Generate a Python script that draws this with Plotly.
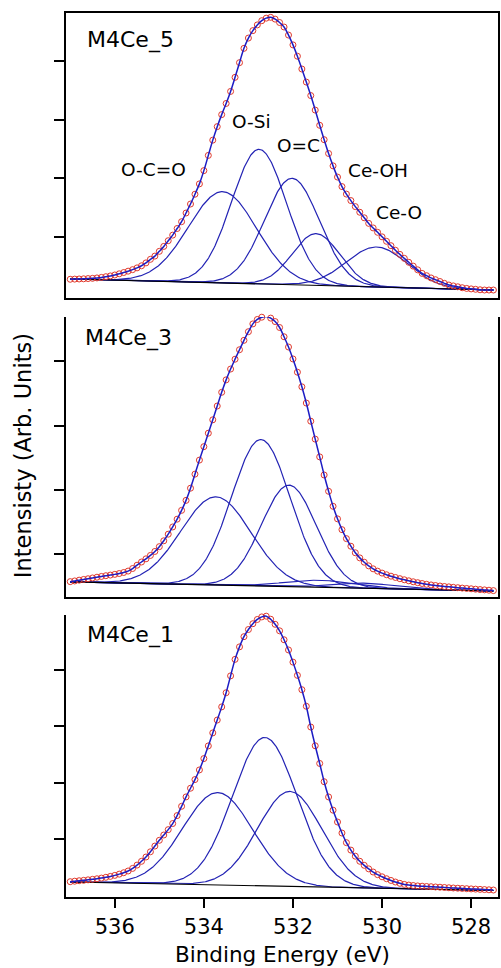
import numpy as np
import plotly.graph_objects as go

# Binding-energy grid of the O 1s scans (eV), 0.1 eV steps from 537.0 down to 527.5
binding_energy = np.round(np.linspace(537.0, 527.5, 96), 2)

# Measured intensities (arb. units) on that grid
int_m4ce5 = [280, 283, 285, 288, 292, 296, 303, 312, 324, 337,
             353, 373, 395, 418, 444, 474, 510, 559, 620, 675,
             756, 840, 937, 1032, 1145, 1261, 1409, 1562, 1729, 1905,
             2131, 2390, 2650, 2880, 3085, 3275, 3480, 3720, 3970, 4214,
             4389, 4516, 4613, 4685, 4728, 4742, 4712, 4654, 4577, 4440,
             4273, 4080, 3862, 3639, 3409, 3162, 2903, 2658, 2423, 2212,
             2021, 1859, 1731, 1621, 1518, 1422, 1327, 1232, 1155, 1080,
             1003, 927, 852, 775, 704, 637, 569, 504, 441, 380,
             341, 303, 273, 242, 211, 182, 167, 152, 136, 124,
             116, 109, 101, 97, 97, 97]
int_m4ce3 = [576, 587, 599, 610, 621, 633, 645, 657, 668, 678,
             689, 702, 718, 740, 780, 831, 881, 930, 983, 1045,
             1119, 1210, 1313, 1425, 1546, 1683, 1838, 2027, 2245, 2463,
             2672, 2881, 3089, 3303, 3516, 3709, 3877, 4030, 4177, 4323,
             4457, 4578, 4647, 4682, 4694, 4668, 4614, 4522, 4378, 4219,
             4034, 3828, 3601, 3349, 3067, 2789, 2513, 2232, 1979, 1746,
             1551, 1383, 1244, 1126, 1024, 945, 878, 821, 775, 739,
             709, 683, 661, 641, 622, 605, 589, 574, 560, 547,
             535, 525, 516, 508, 501, 495, 488, 482, 476, 470,
             465, 459, 453, 448, 443, 437]
int_m4ce1 = [242, 251, 259, 266, 275, 284, 294, 306, 320, 336,
             354, 376, 401, 432, 478, 537, 604, 680, 773, 875,
             977, 1071, 1166, 1275, 1416, 1581, 1748, 1902, 2056, 2227,
             2429, 2654, 2885, 3113, 3347, 3598, 3898, 4191, 4413, 4594,
             4721, 4824, 4900, 4945, 4958, 4904, 4814, 4698, 4539, 4358,
             4142, 3907, 3652, 3358, 2989, 2656, 2342, 2018, 1747, 1512,
             1302, 1106, 935, 803, 695, 605, 533, 470, 414, 367,
             329, 295, 264, 236, 213, 194, 182, 174, 167, 162,
             157, 153, 148, 144, 139, 134, 130, 126, 122, 118,
             114, 110, 106, 102, 98, 94]

# Fitted components: centre (eV), height above background, FWHM (eV)
comp_names = ["O-C=O", "O-Si", "O=C", "Ce-OH", "Ce-O"]

m4ce5_center = [533.58, 532.76, 532.02, 531.48, 530.12]
m4ce5_height = [1555, 2293, 1814, 882, 681]
m4ce5_fwhm = [1.80, 1.45, 1.45, 1.25, 1.60]
m4ce5_bg = [285, 97]          # linear background at 537.0 / 527.5 eV

m4ce3_center = [533.73, 532.72, 532.09, 531.40, 530.40]
m4ce3_height = [1370, 2275, 1576, 109, 78]
m4ce3_fwhm = [1.85, 1.55, 1.45, 1.80, 1.60]
m4ce3_bg = [571, 431]

m4ce1_center = [533.69, 532.63, 532.07]
m4ce1_height = [1642, 2637, 1687]
m4ce1_fwhm = [1.85, 1.70, 1.70]
m4ce1_bg = [236, 85]

panels = [
    ("M4Ce_5", int_m4ce5, m4ce5_center, m4ce5_height, m4ce5_fwhm, m4ce5_bg, [-39, 4816]),
    ("M4Ce_3", int_m4ce3, m4ce3_center, m4ce3_height, m4ce3_fwhm, m4ce3_bg, [338, 4685]),
    ("M4Ce_1", int_m4ce1, m4ce1_center, m4ce1_height, m4ce1_fwhm, m4ce1_bg, [-30, 4979]),
]

x_ticks = [536, 534, 532, 530, 528]
x_range = [537.095, 527.397]
domains = [[0.6776, 1.0], [0.3394, 0.6561], [0.0, 0.3190]]

FONT = "DejaVu Sans"
RED = "#e0392c"
BLUE = "#2323b4"
ENV = "#1c1cc4"

fig = go.Figure()
e_fine = np.linspace(binding_energy[0], binding_energy[-1], 600)

for i, (name, data, cen, hgt, fw, bg, yr) in enumerate(panels):
    sfx = "" if i == 0 else str(i + 1)
    xa, ya = "x" + sfx, "y" + sfx
    frac = (binding_energy[0] - e_fine) / (binding_energy[0] - binding_energy[-1])
    bg_line = bg[0] + (bg[1] - bg[0]) * frac
    for c, h, w in zip(cen, hgt, fw):
        sig = w / (2 * np.sqrt(2 * np.log(2)))
        fig.add_trace(go.Scatter(x=e_fine, y=bg_line + h * np.exp(-(e_fine - c) ** 2 / (2 * sig ** 2)),
                                 mode="lines", line=dict(color=BLUE, width=1.2),
                                 xaxis=xa, yaxis=ya, showlegend=False, hoverinfo="skip"))
    fig.add_trace(go.Scatter(x=[binding_energy[0], binding_energy[-1]], y=bg, mode="lines",
                             line=dict(color="black", width=1.2), xaxis=xa, yaxis=ya,
                             showlegend=False, hoverinfo="skip"))
    fig.add_trace(go.Scatter(x=binding_energy, y=data, mode="markers",
                             marker=dict(symbol="circle-open", size=6, color=RED,
                                         line=dict(width=1, color=RED)),
                             xaxis=xa, yaxis=ya, showlegend=False, cliponaxis=False))
    fig.add_trace(go.Scatter(x=binding_energy, y=data, mode="lines",
                             line=dict(color=ENV, width=1.5, shape="spline"),
                             xaxis=xa, yaxis=ya, showlegend=False))

    last = i == len(panels) - 1
    fig.layout["xaxis" + sfx] = dict(
        domain=[0, 1], anchor=ya, range=x_range, showline=True, linecolor="black", linewidth=1.5,
        mirror=(i == 0), showgrid=False, zeroline=False,
        ticks="outside" if last else "", ticklen=9, tickwidth=1.5, tickcolor="black",
        tickvals=x_ticks, showticklabels=last, ticklabelstandoff=1,
        tickfont=dict(family=FONT, size=21, color="black"),
    )
    fig.layout["yaxis" + sfx] = dict(
        domain=domains[i], anchor=xa, range=yr, showline=True, linecolor="black", linewidth=1.5,
        mirror=True, showgrid=False, zeroline=False, ticks="outside", ticklen=10, tickwidth=1.5,
        tickcolor="black", tickvals=[1000, 2000, 3000, 4000], showticklabels=False,
    )

annotations = [
    dict(text="M4Ce_5", x=0.0438, y=0.9695),
    dict(text="M4Ce_3", x=0.0400, y=0.6324),
    dict(text="M4Ce_1", x=0.0438, y=0.2967),
]
annotations = [dict(a, xref="paper", yref="paper", xanchor="left", yanchor="middle", showarrow=False,
                    font=dict(family=FONT, size=22, color="black")) for a in annotations]

label_pos = [(535.13, 2158), (532.92, 2976), (531.87, 2567), (530.08, 2141), (529.63, 1426)]
for name, (lx, ly) in zip(comp_names, label_pos):
    annotations.append(dict(text=name, x=lx, y=ly, xref="x", yref="y", showarrow=False,
                            xanchor="center", yanchor="middle",
                            font=dict(family=FONT, size=18.5, color="black")))

annotations.append(dict(text="Binding Energy (eV)", x=0.5, y=-0.0645, xref="paper", yref="paper",
                        showarrow=False, xanchor="center", yanchor="middle",
                        font=dict(family=FONT, size=21.5, color="black")))
annotations.append(dict(text="Intensisty (Arb. Units)", x=-0.0991, y=0.4989, xref="paper", yref="paper",
                        showarrow=False, xanchor="center", yanchor="middle", textangle=-90,
                        font=dict(family=FONT, size=22.5, color="black")))

fig.update_layout(width=501, height=968, margin=dict(l=66, r=1, t=13, b=71),
                  paper_bgcolor="white", plot_bgcolor="white", annotations=annotations,
                  showlegend=False)

fig.write_html("out.html")
